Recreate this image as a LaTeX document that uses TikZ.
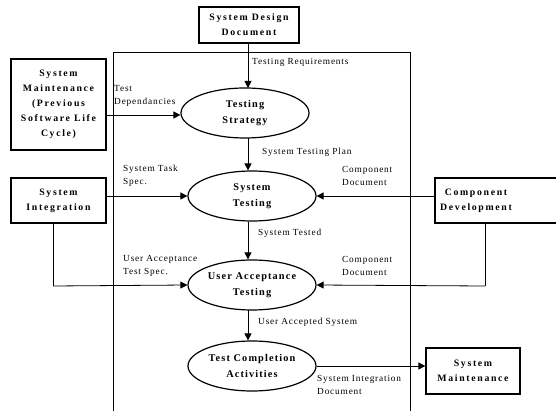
\documentclass[tikz,border=0pt]{standalone}
\usepackage{fontspec}
\setmainfont{Liberation Serif}
\newfontfamily\lblfont{Liberation Serif}[LetterSpace=9]
\newfontfamily\procfont{Liberation Serif}[LetterSpace=11]
\newfontfamily\boxfont{Liberation Serif}[LetterSpace=17]
\usetikzlibrary{shapes.geometric,arrows.meta}
\begin{document}
\begin{tikzpicture}[x=1pt,y=-1pt,
  box/.style={draw,line width=1.3pt,align=center,font=\boxfont\fontsize{9.8}{15}\selectfont\bfseries,inner sep=0pt},
  proc/.style={draw,ellipse,line width=1.2pt,minimum width=128pt,minimum height=50pt,inner sep=0pt,align=center,font=\procfont\fontsize{10.3}{16}\selectfont\bfseries},
  lbl/.style={font=\lblfont\fontsize{9.3}{12.5}\selectfont,align=left,inner sep=0pt},
  flow/.style={line width=0.8pt,-{Triangle[length=7pt,width=7pt]}},
  plain/.style={line width=0.8pt}]
\useasboundingbox (0,0) rectangle (556,411);
% frame
\draw[line width=0.6pt] (113,415) -- (113,52) -- (410,52) -- (410,415);
% boxes
\node[box,minimum width=100pt,minimum height=36pt] (sdd) at (249,25) {System Design\\Document};
\node[box,minimum width=95pt,minimum height=91pt] (smp) at (58.5,104.5) {System\\Maintenance\\(Previous\\Software Life\\Cycle)};
\node[box,minimum width=95pt,minimum height=45pt] (si) at (58.5,200.5) {System\\Integration};
\node[box,minimum width=124pt,minimum height=45pt] (cd) at (497,200.5) {};
\node[box,draw=none] (cdt) at (476,200.5) {Component\\Development};
\node[box,minimum width=94pt,minimum height=46pt] (sm) at (473,371) {System\\Maintenance};
% processes
\node[proc] (ts) at (245,113) {Testing\\Strategy};
\node[proc] (st) at (252,196) {System\\Testing};
\node[proc] (uat) at (252,285) {User Acceptance\\Testing};
\node[proc] (tca) at (252,366) {Test Completion\\Activities};
% coordinates
\coordinate (c1) at (53,286);
\coordinate (c2) at (485,286);
% connectors
\draw[flow] (sdd.south -| 248,0) -- (248,88);
\draw[flow] (smp.east |- 0,115) -- (ts.west |- 0,115);
\draw[flow] (248,138) -- (st.north -| 248,0);
\draw[flow] (si.east |- st.west) -- (st.west);
\draw[flow] (cd.west |- st.east) -- (st.east);
\draw[flow] (248,222) -- (uat.north -| 248,0);
\draw[plain] (si.south -| c1) -- (c1);
\draw[flow] (c1) -- (uat.west);
\draw[plain] (cd.south -| c2) -- (c2);
\draw[flow] (c2) -- (uat.east);
\draw[flow] (248,310) -- (tca.north -| 248,0);
\draw[flow] (tca.east) -- (sm.west |- tca.east);
% labels
\node[lbl,anchor=west] (l1) at (252,62) {Testing Requirements};
\node[lbl,anchor=west] (l2) at (114,96) {Test\\Dependancies};
\node[lbl,anchor=west] (l3) at (262,152) {System Testing Plan};
\node[lbl,anchor=west] (l4) at (123,176) {System Task\\Spec.};
\node[lbl,anchor=west] (l5) at (342,176) {Component\\Document};
\node[lbl,anchor=west] (l6) at (258,233) {System Tested};
\node[lbl,anchor=west] (l7) at (123,266) {User Acceptance\\Test Spec.};
\node[lbl,anchor=west] (l8) at (342,266) {Component\\Document};
\node[lbl,anchor=west] (l9) at (258,322) {User Accepted System};
\node[lbl,anchor=west] (l10) at (317,385) {System Integration\\Document};
\end{tikzpicture}
\end{document}
